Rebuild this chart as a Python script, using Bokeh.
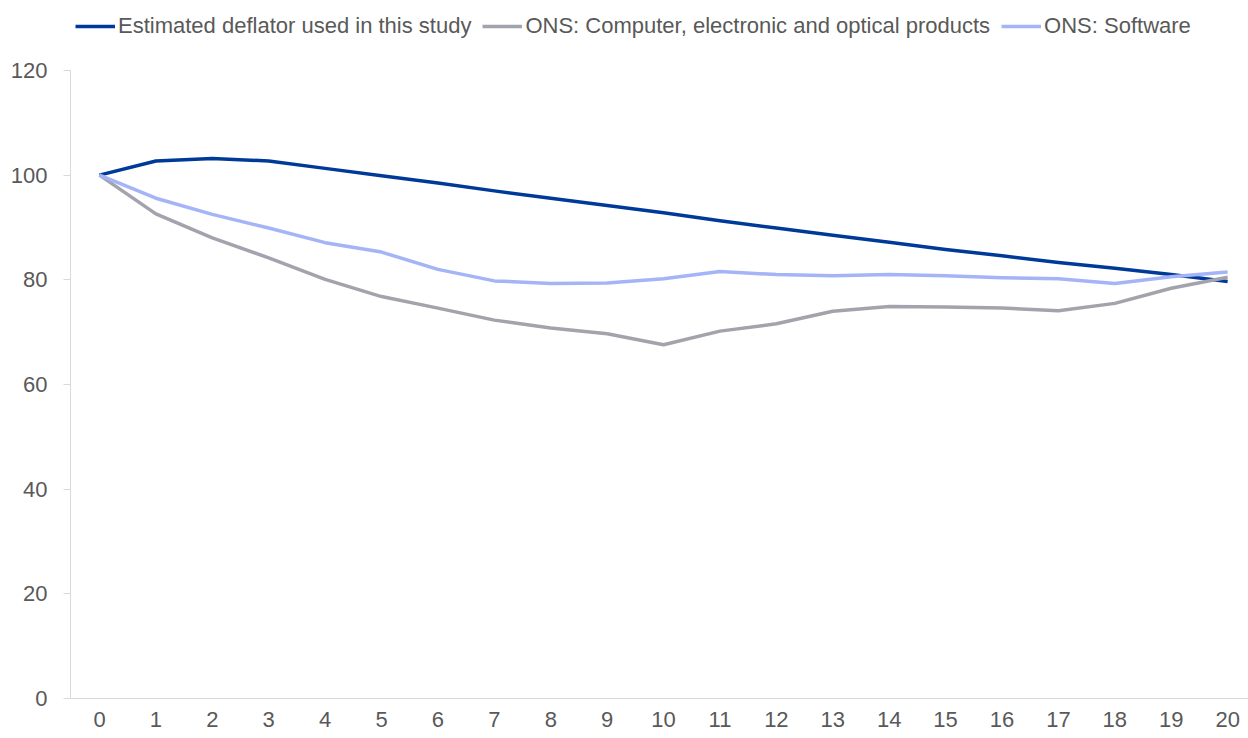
from bokeh.plotting import figure
from bokeh.models import Legend, LegendItem, Range1d, FixedTicker
from bokeh.embed import file_html
from bokeh.resources import INLINE

years = list(range(0, 21))
estimated = [100, 102.7, 103.2, 102.7, 101.3, 99.9, 98.5, 97.0, 95.6, 94.2, 92.8,
             91.3, 89.9, 88.5, 87.2, 85.8, 84.6, 83.3, 82.2, 81.0, 79.7]
ons_computer = [100, 92.6, 88.0, 84.2, 80.1, 76.8, 74.6, 72.3, 70.8, 69.7, 67.6,
                70.2, 71.6, 74.0, 74.9, 74.8, 74.6, 74.1, 75.5, 78.4, 80.5]
ons_software = [100, 95.6, 92.5, 89.9, 87.1, 85.3, 82.0, 79.8, 79.3, 79.4, 80.2,
                81.6, 81.0, 80.8, 81.0, 80.8, 80.4, 80.2, 79.3, 80.6, 81.5]
series_names = ["Estimated deflator used in this study",
                "ONS: Computer, electronic and optical products",
                "ONS: Software"]
y_ticks = [0, 20, 40, 60, 80, 100, 120]

colors = ["#003A99", "#A3A3AD", "#A5B4F7"]
FONT = "Liberation Sans"
TXT = "#595959"
AX = "#D9D9D9"

p = figure(width=1248, height=738, output_backend="svg", toolbar_location=None,
           title_location=None,
           min_border_left=70, min_border_right=0, min_border_top=0, min_border_bottom=40)
p.x_range = Range1d(-0.514, 20.37)
# frame spans the full height; space above 120 holds the legend
p.y_range = Range1d(0, 120 * 698 / 628)
p.outline_line_color = None
p.xgrid.grid_line_color = None
p.ygrid.grid_line_color = None
p.background_fill_color = "white"
p.border_fill_color = "white"

renderers = []
for ys, c in zip([estimated, ons_computer, ons_software], colors):
    r = p.line(years, ys, line_color=c, line_width=3.5, line_join="round")
    renderers.append(r)

p.xaxis.ticker = FixedTicker(ticks=years)
p.yaxis.ticker = FixedTicker(ticks=y_ticks)
p.yaxis.bounds = (0, 120)
for ax in (p.xaxis, p.yaxis):
    ax.axis_line_color = AX
    ax.axis_line_width = 1
    ax.major_tick_line_color = AX
    ax.minor_tick_line_color = None
    ax.major_label_text_font = FONT
    ax.major_label_text_font_size = "22px"
    ax.major_label_text_color = TXT
p.xaxis.major_tick_out = 0
p.xaxis.major_tick_in = 0
p.xaxis.major_label_standoff = 13
p.yaxis.major_tick_out = 7
p.yaxis.major_tick_in = 0
p.yaxis.major_label_standoff = 16

legend = Legend(items=[LegendItem(label=n, renderers=[r]) for n, r in zip(series_names, renderers)],
                orientation="horizontal", location=(5, 659),
                label_text_font=FONT, label_text_font_size="22px", label_text_color=TXT,
                glyph_width=40, glyph_height=20, label_standoff=3, spacing=11,
                padding=0, margin=0, border_line_alpha=0, background_fill_alpha=0)
p.add_layout(legend, "center")

open("out.html", "w").write(file_html(p, INLINE))
